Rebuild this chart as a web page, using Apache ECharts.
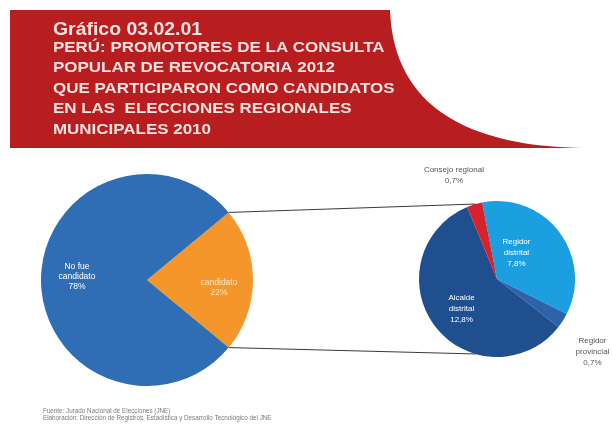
<!DOCTYPE html>
<html>
<head>
<meta charset="utf-8">
<script src="https://cdn.jsdelivr.net/npm/echarts@6/dist/echarts.min.js"></script>
<style>
  html, body { margin: 0; padding: 0; background: #ffffff; }
  #chart { width: 612px; height: 429px; }
</style>
</head>
<body>
<div id="chart"></div>
<script>
// Share of revocation promoters who ran in the 2010 elections
const mainCategories = ['candidato', 'No fue candidato'];
const mainLabels = ['candidato', 'No fue\ncandidato'];
const mainValues = [22, 78];

// Breakdown of the "candidato" share by office
const subCategories = ['Regidor distrital', 'Regidor provincial', 'Alcalde distrital', 'Consejo regional'];
const subLabels = ['Regidor\ndistrital', 'Regidor\nprovincial', 'Alcalde\ndistrital', 'Consejo regional'];
const subValues = [7.8, 0.7, 12.8, 0.7];

const titleLines = [
  'PERÚ: PROMOTORES DE LA CONSULTA',
  'POPULAR DE REVOCATORIA 2012',
  'QUE PARTICIPARON COMO CANDIDATOS',
  'EN LAS  ELECCIONES REGIONALES',
  'MUNICIPALES 2010'
];
const sourceLines = [
  'Fuente: Jurado Nacional de Elecciones (JNE)',
  'Elaboración: Dirección de Registros, Estadística y Desarrollo Tecnológico del JNE'
];

const FONT = '"Liberation Sans", Arial, sans-serif';
const mainCenter = [147, 280], mainR = 106;
const subCenter = [497, 279], subR = 78;

const chart = echarts.init(document.getElementById('chart'), null, { renderer: 'canvas' });

const total = mainValues.reduce((a, b) => a + b, 0);
const halfAngle = mainValues[0] / total * Math.PI; // half of the "candidato" wedge, radians
const halfDeg = halfAngle * 180 / Math.PI;

// connector lines: wedge edges of the main pie to the top/bottom of the detail pie
const a1 = [mainCenter[0] + mainR * Math.cos(halfAngle), mainCenter[1] - mainR * Math.sin(halfAngle)];
const a2 = [mainCenter[0] + mainR * Math.cos(halfAngle), mainCenter[1] + mainR * Math.sin(halfAngle)];
const tilt = 16 * Math.PI / 180;
const b1 = [subCenter[0] - subR * Math.sin(tilt), subCenter[1] - subR * Math.cos(tilt)];
const b2 = [subCenter[0] - subR * Math.sin(tilt), subCenter[1] + subR * Math.cos(tilt)];

// header banner with a swept right edge (quadratic curve sampled into a polygon)
function bannerPoints() {
  const pts = [[10, 10], [390, 10]];
  const p0 = [390, 10], c = [395, 145], p1 = [583, 148];
  for (let k = 1; k <= 40; k++) {
    const t = k / 40, u = 1 - t;
    pts.push([u * u * p0[0] + 2 * u * t * c[0] + t * t * p1[0],
              u * u * p0[1] + 2 * u * t * c[1] + t * t * p1[1]]);
  }
  pts.push([10, 148]);
  return pts;
}

const mainColors = ['#f5962a', '#2f6db5'];
const mainLabelColors = ['#fbe6c8', '#ffffff'];
const mainOffsets = [[16, 8], [-14, -3]];

const subColors = ['#1b9fe0', '#2d63a8', '#1f4f8f', '#d6232b'];
const subLabelColors = ['#ffffff', '#555555', '#ffffff', '#555555'];
const subOffsets = [[-14, -1], [60, 50], [-2, 4], [-31, -63]];

const graphic = [
  {
    type: 'polygon',
    shape: { points: bannerPoints() },
    style: { fill: '#b81d1f' }
  },
  {
    type: 'text', x: 53, y: 21, scaleX: 1.08,
    style: { text: 'Gráfico 03.02.01', fill: '#f6e2df', font: 'bold 18px ' + FONT }
  },
  {
    type: 'line',
    shape: { x1: a1[0], y1: a1[1], x2: b1[0], y2: b1[1] },
    style: { stroke: '#3a3a3a', lineWidth: 1 }
  },
  {
    type: 'line',
    shape: { x1: a2[0], y1: a2[1], x2: b2[0], y2: b2[1] },
    style: { stroke: '#3a3a3a', lineWidth: 1 }
  }
];
titleLines.forEach((t, i) => {
  graphic.push({
    type: 'text', x: 53, y: 40 + i * 20.6, scaleX: 1.13,
    style: { text: t, fill: '#f6e2df', font: 'bold 15px ' + FONT }
  });
});
sourceLines.forEach((t, i) => {
  graphic.push({
    type: 'text', left: 43, top: 408 + i * 7.5,
    style: { text: t, fill: '#7a7a7a', font: '6.3px ' + FONT }
  });
});

chart.setOption({
  animation: false,
  backgroundColor: '#ffffff',
  graphic: graphic,
  series: [
    {
      type: 'pie',
      center: mainCenter,
      radius: mainR,
      startAngle: halfDeg,
      clockwise: true,
      silent: true,
      label: { show: true, position: 'inside', fontFamily: FONT, fontSize: 8.5, lineHeight: 10, align: 'center' },
      labelLine: { show: false },
      itemStyle: { borderWidth: 0 },
      data: mainCategories.map((name, i) => ({
        name: name,
        value: mainValues[i],
        itemStyle: { color: mainColors[i] },
        label: {
          formatter: mainLabels[i] + '\n' + mainValues[i] + '%',
          color: mainLabelColors[i],
          offset: mainOffsets[i]
        }
      }))
    },
    {
      type: 'pie',
      center: subCenter,
      radius: subR,
      startAngle: 101,
      clockwise: true,
      silent: true,
      label: { show: true, position: 'inside', fontFamily: FONT, fontSize: 8, lineHeight: 11, align: 'center' },
      labelLine: { show: false },
      itemStyle: { borderWidth: 0 },
      data: subCategories.map((name, i) => ({
        name: name,
        value: subValues[i],
        itemStyle: { color: subColors[i] },
        label: {
          formatter: subLabels[i] + '\n' + String(subValues[i]).replace('.', ',') + '%',
          color: subLabelColors[i],
          offset: subOffsets[i]
        }
      }))
    }
  ]
});
</script>
</body>
</html>
